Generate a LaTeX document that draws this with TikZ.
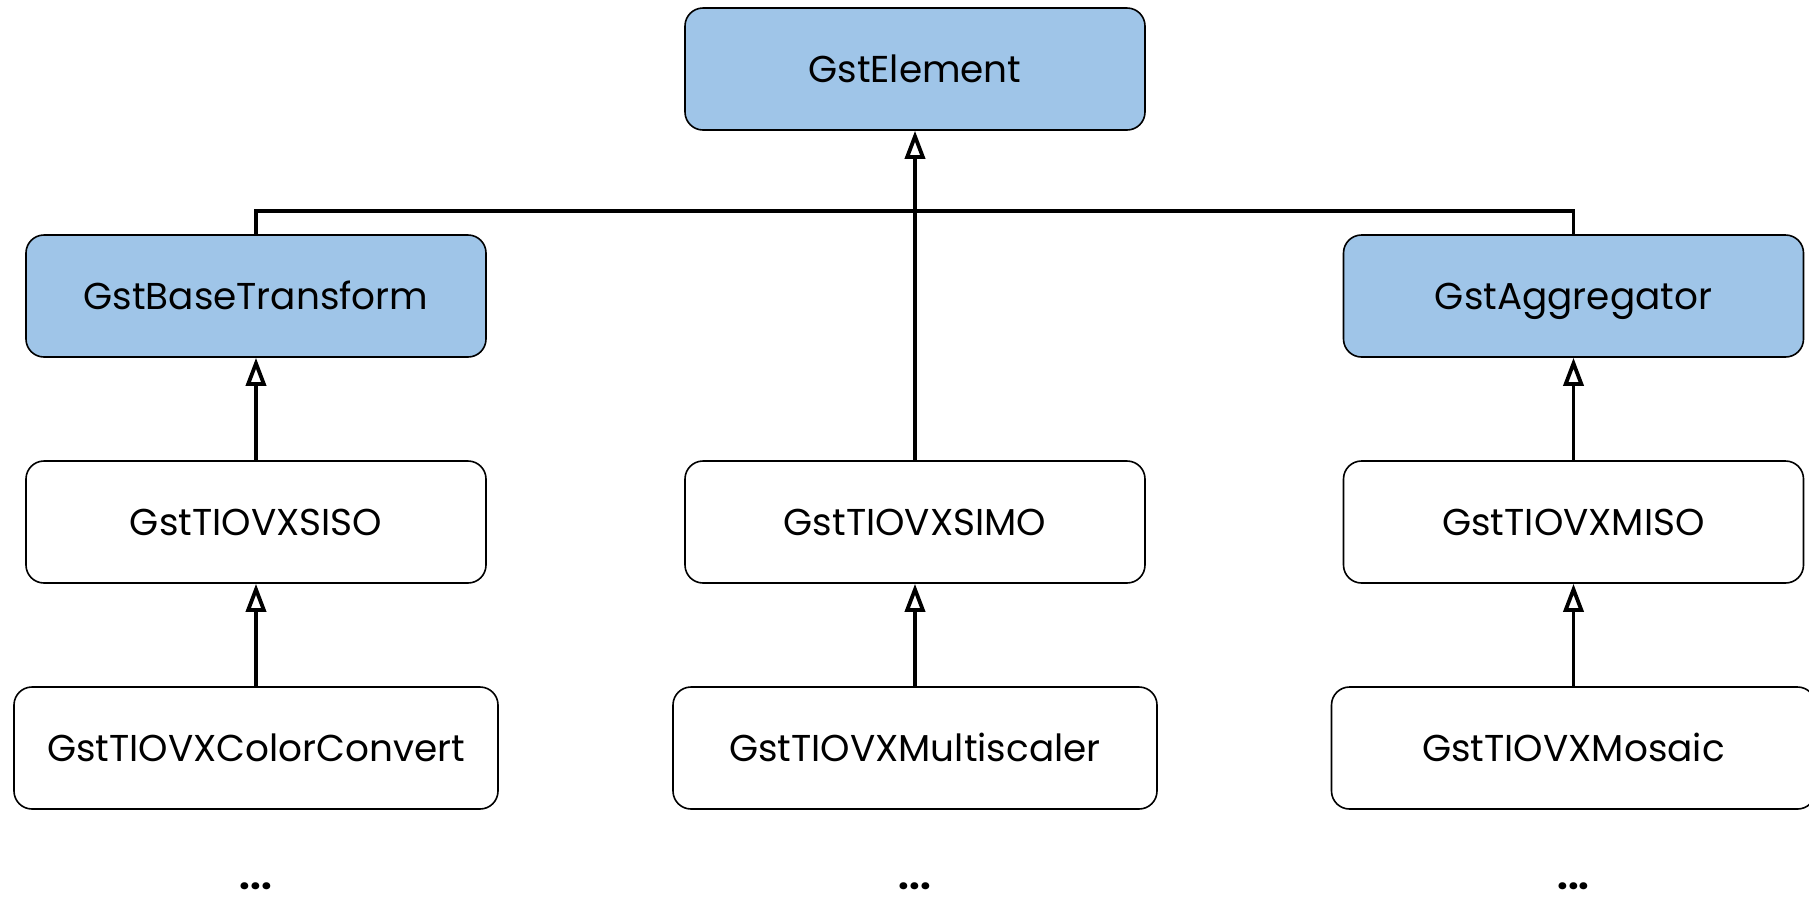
\documentclass[tikz,border=0pt]{standalone}
\usepackage{fontspec}
\setmainfont{Poppins}
\usetikzlibrary{arrows.meta}
\definecolor{baseblue}{HTML}{9FC5E8}
\tikzset{
  x=0.5pt, y=-0.5pt,
  cls/.style={draw=black, line width=0.8pt, rounded corners=9pt, fill=white,
    minimum width=230pt, minimum height=61pt, inner sep=0pt,
    text height=13pt, text depth=0pt,
    font=\fontsize{18.7}{22}\selectfont},
  basecls/.style={cls, fill=baseblue},
  leafcls/.style={cls, minimum width=242pt},
  link/.style={line width=1.9pt},
  inherit/.style={link,
    -{Triangle[open, length=14pt, width=10pt]}},
  more/.style={inner sep=0pt, text depth=0pt, font=\fontsize{19}{20}\selectfont\bfseries}
}
\begin{document}
\begin{tikzpicture}
\useasboundingbox (0,0) rectangle (1809,896);

% base classes
\node[basecls] (el)  at (915,69)    {GstElement};
\node[basecls] (bt)  at (256,296)   {GstBaseTransform};
\node[basecls] (agg) at (1573.5,296) {GstAggregator};

% TIOVX intermediate classes
\node[cls] (siso) at (256,522)    {GstTIOVXSISO};
\node[cls] (simo) at (915,522)    {GstTIOVXSIMO};
\node[cls] (miso) at (1573.5,522) {GstTIOVXMISO};

% concrete elements
\node[leafcls] (cc) at (256,748)    {GstTIOVXColorConvert};
\node[leafcls] (ms) at (915,748)    {GstTIOVXMultiscaler};
\node[leafcls] (mo) at (1573.5,748) {GstTIOVXMosaic};

% ellipses below each column
\node[more, anchor=base] (d1) at (256,889)    {...};
\node[more, anchor=base] (d2) at (915,889)    {...};
\node[more, anchor=base] (d3) at (1573.5,889) {...};

% inheritance connectors
\coordinate (j) at (915,211);
\draw[inherit] (simo.north) -- (el.south);
\draw[link] (bt.north) |- (j);
\draw[link] (agg.north) |- (j);
\draw[inherit] (siso.north) -- (bt.south);
\draw[inherit] (miso.north) -- (agg.south);
\draw[inherit] (cc.north) -- (siso.south);
\draw[inherit] (ms.north) -- (simo.south);
\draw[inherit] (mo.north) -- (miso.south);
\end{tikzpicture}
\end{document}
